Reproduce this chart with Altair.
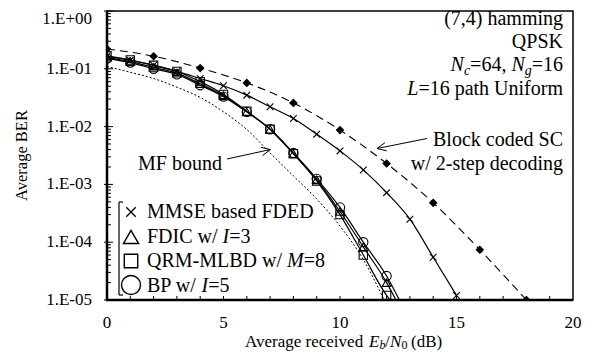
import altair as alt
import pandas as pd
import numpy as np

FONT = "Liberation Serif"

# ---------------- data ----------------
snr_cluster = list(range(0, 13))
ber_bp   = [0.150, 0.128, 0.100, 0.080, 0.052, 0.033, 0.0180, 0.0090, 3.5e-3, 1.25e-3, 4.0e-4, 1.0e-4, 2.6e-5]
ber_fdic = [0.158, 0.133, 0.106, 0.084, 0.055, 0.034, 0.0180, 0.0090, 3.4e-3, 1.20e-3, 3.4e-4, 8.3e-5, 2.0e-5]
ber_qrm  = [0.168, 0.142, 0.115, 0.090, 0.060, 0.036, 0.0185, 0.0090, 3.4e-3, 1.15e-3, 3.0e-4, 6.0e-5, 1.2e-5]
# where each curve's line meets the bottom of the plot
line_end_snr = {"bp": 12.55, "fdic": 12.4, "qrm": 12.15}
line_end_ber = 1.0e-5

snr_mmse = list(range(0, 16))
ber_mmse = [0.165, 0.140, 0.115, 0.090, 0.068, 0.051, 0.035, 0.022, 0.0138, 0.0074,
            0.0038, 1.78e-3, 7.2e-4, 2.5e-4, 5.5e-5, 1.2e-5]

snr_sc = [0, 2, 4, 6, 8, 10, 12, 14, 16, 18]
ber_sc = [0.22, 0.165, 0.103, 0.057, 0.0257, 0.0087, 2.3e-3, 4.8e-4, 7.4e-5, 1.0e-5]

snr_mf = [0, 1, 2, 3, 4, 5, 6, 7, 8, 9, 10, 11, 11.9]
ber_mf = [0.110, 0.087, 0.068, 0.048, 0.032, 0.018, 0.0089, 0.0035, 1.4e-3, 5.6e-4, 1.9e-4, 5.0e-5, 1.0e-5]

x_tick_values = [0, 5, 10, 15, 20]
x_tick_text = ["0", "5", "10", "15", "20"]
y_tick_values = [1, 0.1, 0.01, 0.001, 1e-4, 1e-5]
y_tick_text = ["1.E+00", "1.E-01", "1.E-02", "1.E-03", "1.E-04", "1.E-05"]
x_minor = list(range(1, 20))
y_minor = [k * 10.0 ** (-d) for d in range(1, 6) for k in range(2, 10)]

W, H = 466, 289
XMAX = 20.0
DEC = 5.0
xs = alt.Scale(domain=[0, 20], nice=False, zero=False)
ys = alt.Scale(type="log", domain=[1e-5, 1], nice=False)

CROSS = "M-1,-1L1,1M1,-1L-1,1"


def to_x(px):
    return px / W * XMAX


def to_y(py):
    return 10.0 ** (-DEC * py / H)


def df_xy(x, y):
    return pd.DataFrame({"x": x, "y": y})


def line(x, y, width=1.2, dash=None):
    m = dict(color="black", strokeWidth=width, interpolate="monotone", clip=True)
    if dash:
        m["strokeDash"] = dash
    return alt.Chart(df_xy(x, y)).mark_line(**m).encode(
        x=alt.X("x:Q", scale=xs, axis=None),
        y=alt.Y("y:Q", scale=ys, axis=None),
    )


def pts(x, y, shape, size, filled=False, sw=1.1):
    return alt.Chart(df_xy(x, y)).mark_point(
        shape=shape, size=size, filled=filled, color="black", strokeWidth=sw, opacity=1, clip=True
    ).encode(x=alt.X("x:Q", scale=xs, axis=None), y=alt.Y("y:Q", scale=ys, axis=None))


def tlayer(rows, fs, italic=False, align="left", baseline="alphabetic", angle=0):
    df = pd.DataFrame(rows, columns=["text", "px", "py"])
    df["x"] = to_x(df["px"])
    df["y"] = to_y(df["py"])
    return alt.Chart(df).mark_text(
        font=FONT, fontSize=fs, fontStyle="italic" if italic else "normal", align=align,
        baseline=baseline, angle=angle, color="black"
    ).encode(
        x=alt.X("x:Q", scale=xs, axis=None),
        y=alt.Y("y:Q", scale=ys, axis=None),
        text="text:N",
    )


def segs(rows, width=1.0):
    df = pd.DataFrame(rows, columns=["px1", "py1", "px2", "py2"])
    df["x1"] = to_x(df["px1"])
    df["x2"] = to_x(df["px2"])
    df["y1"] = to_y(df["py1"])
    df["y2"] = to_y(df["py2"])
    return alt.Chart(df).mark_rule(color="black", strokeWidth=width).encode(
        x=alt.X("x1:Q", scale=xs, axis=None), y=alt.Y("y1:Q", scale=ys, axis=None),
        x2="x2:Q", y2="y2:Q",
    )


def arrow(tail, tip, head=10, ang=25):
    tx, ty = tail
    hx, hy = tip
    v = np.array([tx - hx, ty - hy], dtype=float)
    v /= np.linalg.norm(v)
    rows = [(tx, ty, hx, hy)]
    for a in (ang, -ang):
        r = np.radians(a)
        rx = v[0] * np.cos(r) - v[1] * np.sin(r)
        ry = v[0] * np.sin(r) + v[1] * np.cos(r)
        rows.append((hx, hy, hx + head * rx, hy + head * ry))
    return rows


# ---------------- axes: ticks, labels, domain lines ----------------
ytick_minor = alt.Chart(pd.DataFrame({"v": y_minor})).mark_rule(color="black", strokeWidth=1).encode(
    y=alt.Y("v:Q", scale=ys, axis=None), x=alt.value(0), x2=alt.value(4))
ytick_major = alt.Chart(pd.DataFrame({"v": y_tick_values})).mark_rule(color="black", strokeWidth=1).encode(
    y=alt.Y("v:Q", scale=ys, axis=None), x=alt.value(-3), x2=alt.value(6))
xtick_minor = alt.Chart(pd.DataFrame({"v": x_minor})).mark_rule(color="black", strokeWidth=1).encode(
    x=alt.X("v:Q", scale=xs, axis=None), y=alt.value(H), y2=alt.value(H - 4))
ylab_df = pd.DataFrame({"v": y_tick_values, "t": y_tick_text})
ylabels = alt.Chart(ylab_df.iloc[1:]).mark_text(
    font=FONT, fontSize=17, align="right", baseline="middle", color="black").encode(
    y=alt.Y("v:Q", scale=ys, axis=None), x=alt.value(-15), text="t:N")
ylabel_top = alt.Chart(ylab_df.iloc[:1]).mark_text(
    font=FONT, fontSize=17, align="right", baseline="top", dy=0, color="black").encode(
    y=alt.Y("v:Q", scale=ys, axis=None), x=alt.value(-15), text="t:N")
xlabels = alt.Chart(pd.DataFrame({"v": x_tick_values, "t": x_tick_text})).mark_text(
    font=FONT, fontSize=17, align="center", baseline="alphabetic", color="black").encode(
    x=alt.X("v:Q", scale=xs, axis=None), y=alt.value(H + 28), text="t:N")
left_dom = alt.Chart(pd.DataFrame({"v": [0]})).mark_rule(color="black", strokeWidth=2.5).encode(
    x=alt.value(0), y=alt.value(0), y2=alt.value(H + 1))
bottom_dom = alt.Chart(pd.DataFrame({"v": [0]})).mark_rule(color="black", strokeWidth=2.5).encode(
    x=alt.value(-1), x2=alt.value(W), y=alt.value(H))

# ---------------- curves ----------------
layers = [
    line(snr_mf, ber_mf, width=1.0, dash=[2, 2]),
    line(snr_sc, ber_sc, width=1.1, dash=[8, 5]),
    line(snr_mmse, ber_mmse),
    line(snr_cluster + [line_end_snr["fdic"]], ber_fdic + [line_end_ber]),
    line(snr_cluster + [line_end_snr["qrm"]], ber_qrm + [line_end_ber]),
    line(snr_cluster + [line_end_snr["bp"]], ber_bp + [line_end_ber]),
    pts(snr_sc, ber_sc, "diamond", 75, filled=True),
    pts(snr_mmse, ber_mmse, CROSS, 45, sw=1.1),
    pts(snr_cluster, ber_qrm, "square", 70),
    pts(snr_cluster, ber_fdic, "triangle-up", 75),
    pts(snr_cluster, ber_bp, "circle", 85),
    ytick_minor, ytick_major, xtick_minor, left_dom, bottom_dom, ylabels, ylabel_top, xlabels,
]

# ---------------- annotations (pixel offsets in the plot area -> data coords) ----------------
FS = 20
xt_base = 336
layers += [
    # x-axis title: Average received E_b/N_0 (dB)
    tlayer([("Average received ", 138, xt_base), ("/", 278, xt_base), ("(dB)", 304, xt_base)], 17),
    tlayer([("E", 262, xt_base), ("N", 283, xt_base)], 17, italic=True),
    tlayer([("b", 272.5, xt_base + 2)], 12, italic=True),
    tlayer([("0", 294.5, xt_base + 2)], 12),
    # y-axis title
    tlayer([("Average BER", -85, 144.5)], 16.5, align="center", baseline="middle", angle=270),
    # top-right info block
    tlayer([("(7,4) hamming", 456, 14), ("QPSK", 456, 37), ("=16", 456, 60)], FS, align="right"),
    tlayer([("=64, ", 363.1, 60), ("=16 path Uniform", 311.4, 83.5)], FS),
    tlayer([("N", 343.6, 60), ("N", 404.4, 60), ("L", 300.3, 83.5)], FS, italic=True),
    tlayer([("c", 356.9, 64), ("g", 417.7, 64)], 14, italic=True),
    # block coded SC label
    tlayer([("Block coded SC", 456, 135), ("w/ 2-step decoding", 456, 159)], FS, align="right"),
    # MF bound label
    tlayer([("MF bound", 31, 159)], FS),
    segs(arrow((120, 148), (163.5, 138.5))),
    segs(arrow((320, 127.5), (270, 137.5))),
    # legend block
    tlayer([("MMSE based FDED", 40, 207), ("FDIC w/ ", 40, 232), ("=3", 122.3, 232),
            ("QRM-MLBD w/ ", 40, 256), ("=8", 196.7, 256),
            ("BP w/ ", 40, 281), ("=5", 101.2, 281)], FS),
    tlayer([("I", 115.6, 232), ("M", 180, 256), ("I", 94.5, 281)], FS, italic=True),
    segs([(12, 191, 12, 284), (12, 191, 16, 191), (12, 284, 16, 284)], width=1.2),
]

leg_sym = [(CROSS, 24, 201, 90), ("triangle-up", 24, 226, 230), ("square", 24, 250, 180),
           ("circle", 24, 274, 360)]
for shp, px, py, sz in leg_sym:
    layers.append(
        alt.Chart(pd.DataFrame({"x": [to_x(px)], "y": [to_y(py)]})).mark_point(
            shape=shp, size=sz, filled=False, color="black", strokeWidth=1.4, opacity=1
        ).encode(x=alt.X("x:Q", scale=xs, axis=None), y=alt.Y("y:Q", scale=ys, axis=None))
    )

chart = alt.layer(*layers).properties(
    width=W, height=H,
    padding={"left": 99, "top": 3, "right": 13, "bottom": 52},
    autosize=alt.AutoSizeParams(type="none"),
).configure(
    font=FONT, background="white",
    view=alt.ViewConfig(stroke="black", strokeWidth=1.5),
)

chart.save("out.html", embed_options={"renderer": "svg", "actions": False})
